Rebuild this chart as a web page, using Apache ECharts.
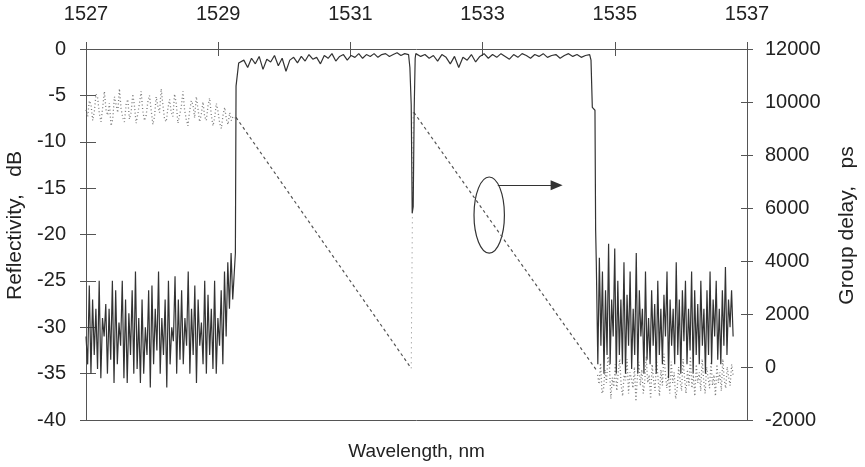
<!DOCTYPE html>
<html>
<head>
<meta charset="utf-8">
<script src="https://cdn.jsdelivr.net/npm/echarts@6/dist/echarts.min.js"></script>
<style>
  html, body { margin: 0; padding: 0; background: #fff; }
  #chart { width: 865px; height: 467px; }
</style>
</head>
<body>
<div id="chart"></div>
<script>
// wavelength axis (nm) and tick labels
var wlTicks = [1527, 1529, 1531, 1533, 1535, 1537];
var reflTicks = [-40, -35, -30, -25, -20, -15, -10, -5, 0];
var delayTicks = [-2000, 0, 2000, 4000, 6000, 8000, 10000, 12000];

// reflectivity, dB -- out-of-band noise left of the grating (1527.00 .. 1529.22 nm)
var reflLeftRange = [1527.0, 1529.22];
var reflLeftNoise = [-31, -34, -25.5, -35, -27, -33, -28, -34.5, -25, -35.5, -29, -31, -27.5, -35, -28, -33.5,
  -25, -36, -26, -34, -29.5, -32, -25, -35.5, -27, -36, -28.5, -33, -26, -35, -24, -34.5, -29, -36, -27, -35,
  -30, -33, -26, -36.5, -25.5, -34, -28, -32.5, -24, -35, -29, -33, -27, -36.5, -25, -34, -30, -31.5, -24.5,
  -35, -27, -33.5, -26, -34, -29, -32, -24, -35, -28, -33, -25.5, -36, -27, -32, -29.5, -34, -25, -35, -26.5,
  -33, -28, -34.5, -25, -35, -29, -32, -26, -34, -24, -31, -23, -28, -22, -27];

// rising edge (nm, dB)
var reflEdge1 = [[1529.24, -27], [1529.26, -22], [1529.27, -4], [1529.30, -3.9], [1529.31, -1.5]];

// reflection band, first half (1529.33 .. 1531.88 nm)
var reflBand1Range = [1529.33, 1531.88];
var reflBand1 = [-1.5, -1.2, -2.0, -1.0, -1.6, -0.8, -2.2, -1.1, -1.4, -0.7, -1.8, -1.0, -2.4, -1.2, -0.9,
  -1.5, -0.8, -1.3, -0.6, -1.1, -0.9, -1.6, -0.7, -1.0, -0.5, -1.3, -0.8, -0.6, -1.2, -0.7, -0.9, -0.5, -1.0,
  -0.6, -0.8, -0.5, -0.9, -0.6, -0.5, -0.8, -0.6, -0.4, -0.7, -0.5, -0.6];

// phase-shift dip in the middle of the band
var reflDip = [[1531.90, -2], [1531.92, -6], [1531.935, -17.7], [1531.95, -17], [1531.965, -6.5],
  [1531.98, -1], [1531.99, -0.5]];

// reflection band, second half (1532.00 .. 1534.62 nm)
var reflBand2Range = [1532.0, 1534.62];
var reflBand2 = [-0.5, -0.8, -0.6, -1.0, -0.7, -1.3, -0.6, -0.9, -1.6, -0.8, -2.0, -0.9, -1.2, -0.6, -1.4,
  -0.8, -0.5, -1.0, -0.6, -0.9, -0.5, -0.8, -1.1, -0.6, -0.9, -0.5, -0.7, -1.0, -0.6, -0.8, -0.5, -0.9, -0.7,
  -0.6, -1.0, -0.7, -0.5, -0.8, -0.6, -0.9, -0.7, -0.6];

// falling edge
var reflEdge2 = [[1534.64, -1.2], [1534.66, -6.3], [1534.70, -6.6], [1534.71, -19.5]];

// out-of-band noise right of the grating (1534.72 .. 1536.79 nm)
var reflRightRange = [1534.72, 1536.79];
var reflRightNoise = [-23, -34, -22.5, -32, -24, -35, -26, -33, -21, -34, -27, -31, -21.5, -35, -25, -33,
  -27, -34, -23, -35, -26.5, -32, -24, -34.5, -28, -33, -22, -35, -26, -31, -28, -35, -24, -33.5, -29, -34,
  -26, -32, -27.5, -35, -25, -33, -28, -34, -26.5, -31, -24, -35.5, -27, -32, -28, -34, -23, -33, -27, -35,
  -26, -31.5, -25, -34, -28, -32.5, -24, -35, -26, -33, -27.5, -34, -25, -32, -28, -35, -26, -33, -24, -34,
  -27, -31, -25, -33.5, -28, -34, -26, -32, -23.5, -33, -27, -30, -26, -31];

// group delay, ps -- noise left of band (1527.00 .. 1529.25 nm)
var delayLeftRange = [1527.0, 1529.25];
var delayLeftNoise = [9700, 9450, 10050, 9900, 9300, 9650, 10300, 10150, 9550, 9250, 9800, 10400, 9700,
  9500, 9950, 9100, 9350, 10200, 9900, 9600, 10500, 9750, 9400, 9250, 9900, 10100, 9350, 9600, 10300, 9850,
  9200, 9550, 9950, 10400, 9650, 9300, 9500, 10000, 10250, 9700, 9150, 9450, 10200, 9850, 9600, 10500,
  9900, 9350, 9250, 9750, 10100, 9600, 9450, 10300, 9950, 9200, 9500, 9800, 10400, 9700, 9350, 9100, 9650,
  10050, 9900, 9400, 10200, 9750, 9250, 9550, 10000, 9450, 9300, 9850, 10150, 9500, 9100, 9400, 9950, 9650,
  9200, 9000, 9500, 9800, 9350, 9150, 9600, 9300, 9450, 9400];

// linear delay slopes inside the band (nm, ps)
var delaySlope1 = [[1529.27, 9420], [1531.92, -50]];
var delayJump = [[1531.92, -50], [1531.95, 9610]];
var delaySlope2 = [[1531.96, 9610], [1534.72, -110]];

// noise right of band (1534.74 .. 1536.79 nm)
var delayRightRange = [1534.74, 1536.79];
var delayRightNoise = [-300, -650, 150, -1000, -850, -100, -600, 400, 100, -1200, -400, -750, 100, -900,
  -200, 300, -700, -1100, -300, -500, 300, -1000, -200, -450, -800, 0, -1300, -400, 200, -700, -100, -1000,
  -550, 400, -600, -300, -1200, 100, -500, -900, 300, -400, -1100, -100, -700, 500, -250, -800, -300, -1000,
  200, -600, -200, -1200, -850, 0, -500, -900, 300, -400, -1000, -100, -700, 400, -800, -300, -1100, 100,
  -600, -200, -900, 300, -500, -1000, 0, -400, -800, 200, -700, -300, -1100, 100, -600, -200, -900, 300,
  -500, -800, 0, -400, -700, 100, -300];

function spread(range, values) {
  var n = values.length, out = [];
  for (var i = 0; i < n; i++) {
    out.push([range[0] + (range[1] - range[0]) * i / (n - 1), values[i]]);
  }
  return out;
}

var reflData = [].concat(
  spread(reflLeftRange, reflLeftNoise), reflEdge1,
  spread(reflBand1Range, reflBand1), reflDip,
  spread(reflBand2Range, reflBand2), reflEdge2,
  spread(reflRightRange, reflRightNoise)
);

var FONT = 'Liberation Sans';
var TXT = '#222';
var AX = '#555';

var chart = echarts.init(document.getElementById('chart'));

var option = {
  animation: false,
  backgroundColor: '#fff',
  textStyle: { fontFamily: FONT },
  grid: { left: 86, right: 118, top: 49, bottom: 47, outerBoundsMode: 'none', containLabel: false },
  xAxis: [
    {
      type: 'value', position: 'top', min: 1527, max: 1537, interval: 2,
      axisLine: { onZero: false, lineStyle: { color: AX, width: 1 } },
      axisTick: { inside: false, length: 7, lineStyle: { color: AX } },
      axisLabel: { color: TXT, fontSize: 20, margin: 25, fontFamily: FONT,
        formatter: function (v) { return wlTicks.indexOf(v) >= 0 ? String(v) : ''; } },
      splitLine: { show: false }
    },
    {
      type: 'value', position: 'top', min: 1527, max: 1537, interval: 2,
      axisLine: { show: false, onZero: false },
      axisTick: { inside: true, length: 7, lineStyle: { color: AX } },
      axisLabel: { show: false }, splitLine: { show: false }
    },
    {
      type: 'value', position: 'bottom', min: 1527, max: 1537,
      name: 'Wavelength, nm', nameLocation: 'middle', nameGap: 22,
      nameTextStyle: { color: TXT, fontSize: 19, fontFamily: FONT },
      axisLine: { onZero: false, lineStyle: { color: AX, width: 1 } },
      axisTick: { show: false }, axisLabel: { show: false }, splitLine: { show: false }
    }
  ],
  yAxis: [
    {
      type: 'value', position: 'left', min: -40, max: 0, interval: 5,
      name: 'Reflectivity,   dB', nameLocation: 'middle', nameGap: 56, nameRotate: 90,
      nameTextStyle: { color: TXT, fontSize: 21, fontFamily: FONT, padding: [0, 0, 0, 18] },
      axisLine: { show: true, onZero: false, lineStyle: { color: AX, width: 1 } },
      axisTick: { show: true, inside: false, length: 6, lineStyle: { color: AX } },
      axisLabel: { color: TXT, fontSize: 20, margin: 20, fontFamily: FONT,
        formatter: function (v) { return reflTicks.indexOf(v) >= 0 ? String(v) : ''; } },
      splitLine: { show: false }
    },
    {
      type: 'value', position: 'left', min: -40, max: 0, interval: 5,
      axisLine: { show: false, onZero: false },
      axisTick: { show: true, inside: true, length: 10, lineStyle: { color: AX } },
      axisLabel: { show: false }, splitLine: { show: false }
    },
    {
      type: 'value', position: 'right', min: -2000, max: 12000, interval: 2000,
      name: 'Group delay,   ps', nameLocation: 'middle', nameGap: 90, nameRotate: 90,
      nameTextStyle: { color: TXT, fontSize: 21, fontFamily: FONT, padding: [0, 0, 0, 18] },
      axisLine: { show: true, onZero: false, lineStyle: { color: AX, width: 1 } },
      axisTick: { show: true, inside: false, length: 6, lineStyle: { color: AX } },
      axisLabel: { color: TXT, fontSize: 20, margin: 18, fontFamily: FONT,
        formatter: function (v) { return delayTicks.indexOf(v) >= 0 ? String(v) : ''; } },
      splitLine: { show: false }
    },
    {
      type: 'value', position: 'right', min: -2000, max: 12000, interval: 2000,
      axisLine: { show: false, onZero: false },
      axisTick: { show: true, inside: true, length: 6, lineStyle: { color: AX } },
      axisLabel: { show: false }, splitLine: { show: false }
    }
  ],
  series: [
    {
      name: 'Group delay noise L', type: 'line', xAxisIndex: 0, yAxisIndex: 2,
      data: spread(delayLeftRange, delayLeftNoise), showSymbol: false,
      lineStyle: { color: '#7a7a7a', width: 1.3, type: [1, 2.5] }
    },
    {
      name: 'Group delay noise R', type: 'line', xAxisIndex: 0, yAxisIndex: 2,
      data: spread(delayRightRange, delayRightNoise), showSymbol: false,
      lineStyle: { color: '#7a7a7a', width: 1.3, type: [1, 2.5] }
    },
    {
      name: 'Group delay slope 1', type: 'line', xAxisIndex: 0, yAxisIndex: 2,
      data: delaySlope1, showSymbol: false,
      lineStyle: { color: '#555', width: 1.2, type: [3, 3] }
    },
    {
      name: 'Group delay jump', type: 'line', xAxisIndex: 0, yAxisIndex: 2,
      data: delayJump, showSymbol: false,
      lineStyle: { color: '#888', width: 1, type: [1, 4] }
    },
    {
      name: 'Group delay slope 2', type: 'line', xAxisIndex: 0, yAxisIndex: 2,
      data: delaySlope2, showSymbol: false,
      lineStyle: { color: '#555', width: 1.2, type: [3, 3] }
    },
    {
      name: 'Reflectivity', type: 'line', xAxisIndex: 0, yAxisIndex: 0,
      data: reflData, showSymbol: false,
      lineStyle: { color: '#333', width: 1.2 },
      markLine: {
        silent: true, symbol: ['none', 'triangle'], symbolSize: [10, 12],
        label: { show: false },
        lineStyle: { color: '#333', width: 1.2, type: 'solid' },
        data: [[{ coord: [1533.23, -14.7] }, { coord: [1534.12, -14.7] }]]
      }
    }
  ]
};

chart.setOption(option);

// ellipse around the delay slope, pointing to the right axis
var c = chart.convertToPixel({ xAxisIndex: 0, yAxisIndex: 0 }, [1533.10, -17.9]);
var e = chart.convertToPixel({ xAxisIndex: 0, yAxisIndex: 0 }, [1533.33, -22.0]);
chart.setOption({
  graphic: [{
    type: 'ellipse',
    shape: { cx: c[0], cy: c[1], rx: Math.abs(e[0] - c[0]), ry: Math.abs(e[1] - c[1]) },
    style: { fill: 'none', stroke: '#333', lineWidth: 1.2 }
  }]
});
</script>
</body>
</html>
